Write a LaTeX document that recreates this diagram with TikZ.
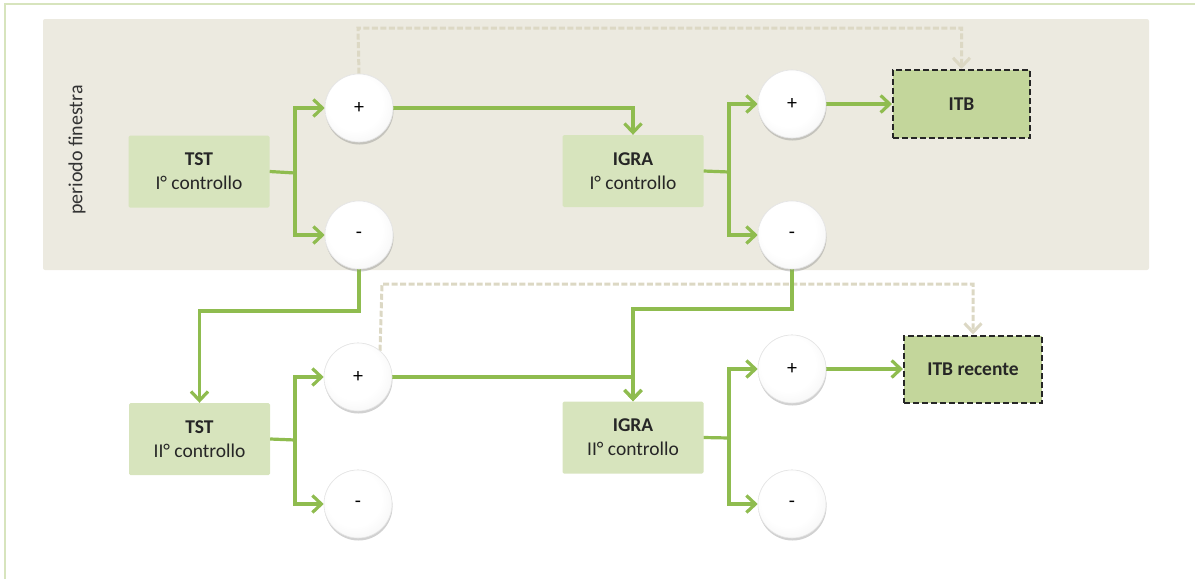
\documentclass[tikz,border=0pt]{standalone}
\usepackage{fontspec}
\setmainfont{Carlito}
\usetikzlibrary{arrows.meta,shadows}
\definecolor{frameG}{HTML}{D7E4BD}
\definecolor{panel}{HTML}{ECEAE0}
\definecolor{boxL}{HTML}{D7E4BD}
\definecolor{boxD}{HTML}{C3D69B}
\definecolor{lineG}{HTML}{8FBC4F}
\definecolor{dashB}{HTML}{DCD8C4}
\definecolor{txt}{HTML}{262626}
\pgfdeclareradialshading{softball}{\pgfpoint{-4bp}{5bp}}{%
  color(0bp)=(white); color(20bp)=(white); color(32bp)=(black!4);
  color(42bp)=(black!12); color(50bp)=(black!24); color(56bp)=(black!32); color(70bp)=(black!35)}
\tikzset{
  stepbox/.style={rectangle, fill=boxL, minimum width=141pt, minimum height=72pt, inner sep=0pt,
    align=center, text=txt, font=\fontsize{19.5}{24}\selectfont, rounded corners=1.5pt},
  resbox/.style={rectangle, fill=boxD, draw=black!85, line width=2pt, dash pattern=on 6pt off 3pt,
    minimum width=137pt, minimum height=68pt, inner sep=0pt, text=txt, font=\fontsize{19.5}{22}\bfseries\selectfont},
  ballnode/.style={circle, minimum size=68pt, inner sep=0pt, shading=softball,
    draw=black!10, line width=0.6pt,
    drop shadow={shadow xshift=0.5pt, shadow yshift=-2.5pt, opacity=0.2},
    text=black, font=\fontsize{20}{22}\selectfont},
  gline/.style={draw=lineG, line width=3.2pt},
  garrow/.style={gline, -{Straight Barb[length=9pt,width=17pt]}},
  darrow/.style={draw=dashB, line width=3pt, dash pattern=on 6pt off 2.5pt,
    -{Straight Barb[length=9pt,width=17pt]}},
}
\begin{document}
\begin{tikzpicture}[x=1pt,y=-1pt]
\useasboundingbox (0,0) rectangle (1195,579);
% outer frame
\draw[frameG, line width=2pt] (5,579) -- (5,4) -- (1195,4);
% panel
\fill[panel, rounded corners=2pt] (43,19) rectangle (1149,270);
\node[rotate=90, text=black!80, font=\fontsize{20}{22}\selectfont] (lab) at (77,150) {periodo finestra};

% nodes
\node[stepbox] (tst1) at (199,171.5) {\textbf{TST}\\I° controllo};
\node[stepbox] (igra1) at (633,171) {\textbf{IGRA}\\I° controllo};
\node[stepbox] (tst2) at (199.5,439) {\textbf{TST}\\II° controllo};
\node[stepbox] (igra2) at (633,437.5) {\textbf{IGRA}\\II° controllo};
\node[resbox] (itb1) at (961.5,104) {ITB};
\node[resbox, minimum width=138pt, minimum height=67pt] (itb2) at (973,369) {ITB recente};

\node[ballnode] (p1) at (359,108) {+};
\node[ballnode] (m1) at (359,235) {-};
\node[ballnode] (p2) at (792,104) {+};
\node[ballnode] (m2) at (792,235) {-};
\node[ballnode] (p3) at (358,377) {+};
\node[ballnode] (m3) at (358,504) {-};
\node[ballnode] (p4) at (792,369) {+};
\node[ballnode] (m4) at (792,504) {-};

% helper coordinates
\coordinate (j1) at (295,173);
\coordinate (j2) at (729,172);
\coordinate (j3) at (295,440);
\coordinate (j4) at (729,438);
\coordinate (d1) at (358,28);
\coordinate (d2) at (382,284);
\coordinate (c1) at (359,311);
\coordinate (c2) at (792,309);

% dashed links
\draw[darrow] (p1.north) -- (d1) -| (itb1.north);
\draw[darrow] (p3.50) -- (d2) -| (itb2.north);

% green links
\draw[gline] (tst1.east) -- (j1);
\draw[garrow] (j1) |- (p1.west);
\draw[garrow] (j1) |- (m1.west);
\draw[garrow] (p1.east) -| (igra1.north);
\draw[gline] (igra1.east) -- (j2);
\draw[garrow] (j2) |- (p2.west);
\draw[garrow] (j2) |- (m2.west);
\draw[garrow] (p2.east) -- (itb1.west);
\draw[garrow] (m1.south) -- (c1) -| (tst2.north);
\draw[gline] (tst2.east) -- (j3);
\draw[garrow] (j3) |- (p3.west);
\draw[garrow] (j3) |- (m3.west);
\draw[garrow] (p3.east) -| (igra2.north);
\draw[garrow] (m2.south) -- (c2) -| (igra2.north);
\draw[gline] (igra2.east) -- (j4);
\draw[garrow] (j4) |- (p4.west);
\draw[garrow] (j4) |- (m4.west);
\draw[garrow] (p4.east) -- (itb2.west);

% redraw balls on top of lines
\foreach \n/\s in {p1/+,m1/-,p2/+,m2/-,p3/+,m3/-,p4/+,m4/-}{
  \node[ballnode] at (\n) {\s};
}
\end{tikzpicture}
\end{document}
